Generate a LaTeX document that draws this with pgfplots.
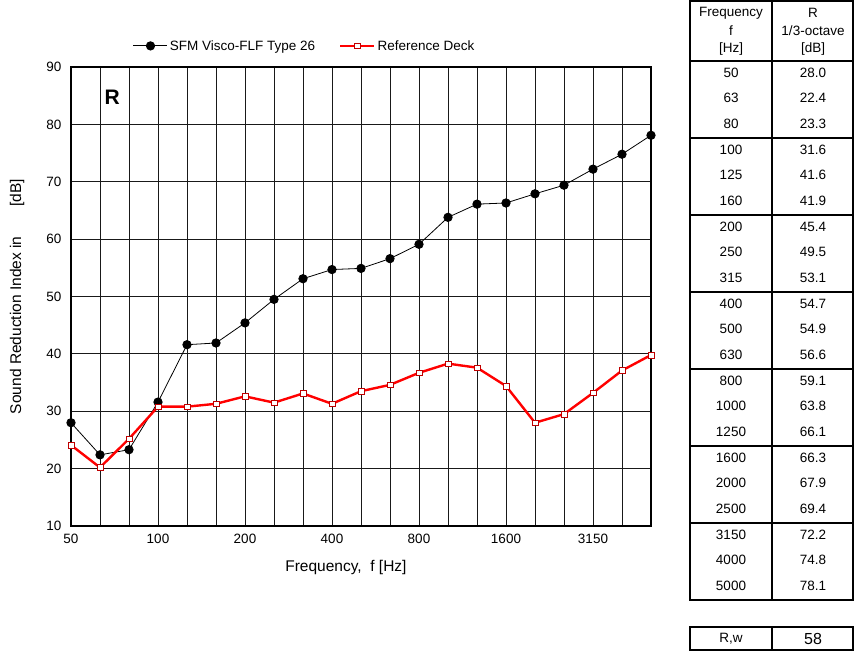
\documentclass[border=0pt]{standalone}
\usepackage{pgfplots}
\pgfplotsset{compat=1.18}
\usepackage{fontspec}
\setmainfont{Liberation Sans}
\newcommand\fs[1]{\fontsize{#1}{#1}\selectfont}

% Sound reduction index per 1/3-octave band (index 0 = 50 Hz ... 20 = 5000 Hz)
\pgfplotstableread{
i  sfm   ref
0  28.0  24.1
1  22.4  20.2
2  23.3  25.2
3  31.6  30.8
4  41.6  30.8
5  41.9  31.3
6  45.4  32.6
7  49.5  31.5
8  53.1  33.1
9  54.7  31.3
10 54.9  33.5
11 56.6  34.6
12 59.1  36.7
13 63.8  38.3
14 66.1  37.6
15 66.3  34.4
16 67.9  28.0
17 69.4  29.5
18 72.2  33.2
19 74.8  37.1
20 78.1  39.8
}\datatable

\begin{document}
\begin{tikzpicture}[x=1pt,y=1pt]
\path[use as bounding box] (0pt,0pt) rectangle (854pt,-651pt);
\begin{axis}[
  at={(71pt,-526pt)}, anchor=south west,
  width=580pt, height=459pt, scale only axis,
  xmin=0, xmax=20, ymin=10, ymax=90,
  xtick={0,...,20},
  xticklabels={50,,,100,,,200,,,400,,,800,,,1600,,,3150,,},
  ytick={10,20,...,90},
  major tick length=0pt,
  grid=major,
  grid style={black!90, line width=1pt},
  axis line style={black, line width=1.6pt},
  /pgf/number format/assume math mode=true,
  tick label style={font=\fs{13.5}},
  xticklabel style={yshift=-5pt},
  yticklabel style={xshift=-6pt},
  xlabel={Frequency,\ \ f [Hz]},
  ylabel={Sound Reduction Index in\hspace{30pt}[dB]},
  label style={font=\fs{15.5}},
  xlabel style={at={(axis description cs:0.474,-0.0893)}, anchor=center},
  ylabel style={at={(axis description cs:-0.093,0.5)}, anchor=center},
  clip=false,
  legend columns=2,
  legend style={draw=none, fill=none, font=\fs{13.5},
    at={(0.403,1.046)}, anchor=center,
    /tikz/every even column/.append style={column sep=22pt}},
  legend image code/.code={\draw[mark repeat=2,mark phase=2]
    plot coordinates {(0pt,0pt) (17pt,0pt) (34pt,0pt)};},
]
\addplot[black, line width=0.8pt, mark=*, mark size=4.2pt] table[x=i, y=sfm] {\datatable};
\addlegendentry{SFM Visco-FLF Type 26}
\addplot[red, line width=2.4pt, mark=square*, mark size=2.8pt,
  mark options={fill=white, draw=red!75!black, line width=0.6pt}] table[x=i, y=ref] {\datatable};
\addlegendentry{Reference Deck}
\node[font=\fs{21}\bfseries] at (axis cs:1.42,84.7) {R};
\end{axis}

% table on the right
\begin{scope}[line width=1.6pt]
\draw (690,-0.8) rectangle (853,-600);
\draw (772,-0.8) -- (772,-600);
\foreach \y in {61,138,215,292,369,446,523} \draw (690,-\y) -- (853,-\y);
\draw (690,-627) rectangle (853,-650.2);
\draw (772,-627) -- (772,-650.2);
\end{scope}
\begin{scope}[every node/.style={font=\fs{13.5}, inner sep=0pt, anchor=center}]
\node at (731,-13) {Frequency};
\node at (731,-31) {f};
\node at (731,-49) {[Hz]};
\node at (813,-13) {R};
\node at (813,-31) {1/3-octave};
\node at (813,-49) {[dB]};
\foreach \f/\v [count=\n from 0] in {50/28.0,63/22.4,80/23.3,100/31.6,125/41.6,160/41.9,
  200/45.4,250/49.5,315/53.1,400/54.7,500/54.9,630/56.6,800/59.1,1000/63.8,1250/66.1,
  1600/66.3,2000/67.9,2500/69.4,3150/72.2,4000/74.8,5000/78.1}{
  \pgfmathsetmacro\yy{-(72.5+77*floor(\n/3)+25.5*mod(\n,3))}
  \node at (731,\yy) {\f};
  \node at (813,\yy) {\v};
}
\node at (731,-639) {R,w};
\node[font=\fs{16}] at (813,-639) {58};
\end{scope}
\end{tikzpicture}
\end{document}
